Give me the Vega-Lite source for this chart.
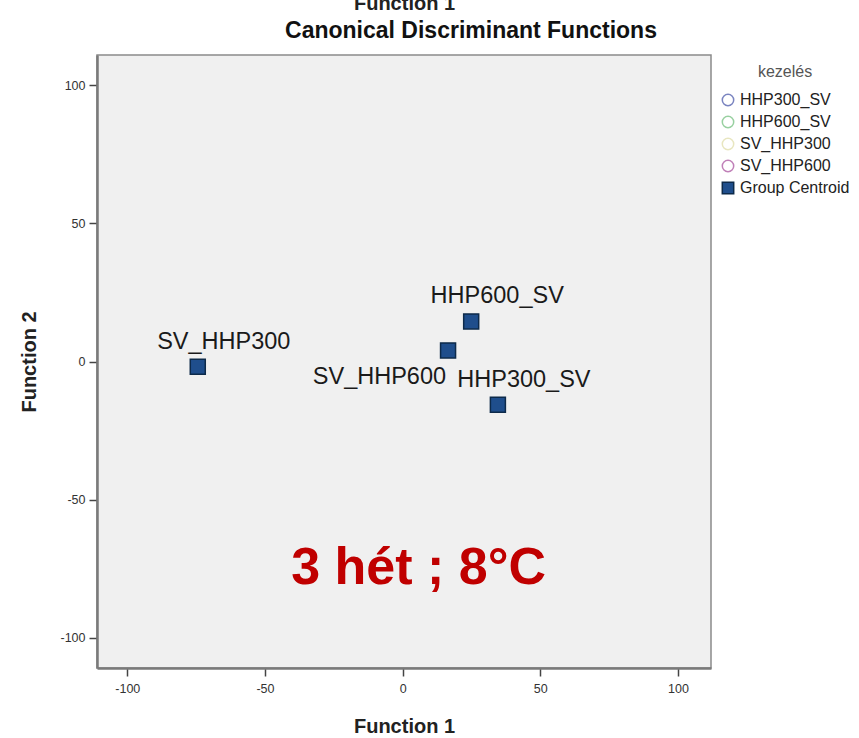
{
  "$schema": "https://vega.github.io/schema/vega-lite/v6.json",
  "width": 614,
  "height": 613,
  "autosize": "none",
  "padding": {"left": 97, "top": 55, "right": 148, "bottom": 70},
  "background": "white",
  "title": {
    "text": "Canonical Discriminant Functions",
    "fontSize": 23,
    "fontWeight": "bold",
    "color": "#111111",
    "anchor": "middle",
    "frame": "group",
    "dx": 67,
    "offset": -50
  },
  "config": {
    "font": "Liberation Sans",
    "view": {"fill": "#f0f0f0", "stroke": "#8a8a8a", "strokeWidth": 1.5},
    "axis": {
      "grid": false,
      "domainColor": "#7a7a7a",
      "domainWidth": 2.5,
      "tickColor": "#444444",
      "tickWidth": 1.5,
      "tickSize": 8,
      "labelFontSize": 12.5,
      "labelColor": "#333333",
      "titleFontSize": 20,
      "titleFontWeight": "bold",
      "titleColor": "#222222"
    }
  },
  "datasets": {
    "centroids": [
      {"group": "SV_HHP300", "kezelés": "Group Centroid", "f1": -74.4, "f2": -1.9},
      {"group": "HHP600_SV", "kezelés": "Group Centroid", "f1": 24.9, "f2": 14.5},
      {"group": "SV_HHP600", "kezelés": "Group Centroid", "f1": 16.5, "f2": 4.0},
      {"group": "HHP300_SV", "kezelés": "Group Centroid", "f1": 34.6, "f2": -15.7}
    ],
    "note": [
      {"label": "3 hét ; 8°C", "f1": 5.8, "f2": -74.7}
    ]
  },
  "layer": [
    {
      "data": {"name": "centroids"},
      "encoding": {
        "x": {
          "field": "f1", "type": "quantitative",
          "scale": {"domain": [-111, 112], "nice": false, "zero": false},
          "axis": {"orient": "bottom", "title": "Function 1", "values": [-100, -50, 0, 50, 100], "labelExpr": "datum.value < 0 ? '-' + abs(datum.value) : '' + datum.value", "labelPadding": 6, "titlePadding": 22}
        },
        "y": {
          "field": "f2", "type": "quantitative",
          "scale": {"domain": [-111, 111], "nice": false, "zero": false},
          "axis": {"title": "Function 2", "values": [-100, -50, 0, 50, 100], "labelExpr": "datum.value < 0 ? '-' + abs(datum.value) : '' + datum.value", "labelPadding": 4, "titlePadding": 20}
        }
      },
      "layer": [
        {
          "mark": {"type": "point", "size": 225, "strokeWidth": 1.5, "opacity": 1},
          "encoding": {
            "shape": {
              "field": "kezelés", "type": "nominal",
              "scale": {"domain": ["HHP300_SV", "HHP600_SV", "SV_HHP300", "SV_HHP600", "Group Centroid"], "range": ["circle", "circle", "circle", "circle", "square"]},
              "legend": {"title": "kezelés", "orient": "none", "legendX": 623, "legendY": 9, "symbolSize": 130, "symbolStrokeWidth": 1.5, "symbolOpacity": 1, "labelFontSize": 16, "labelColor": "#222222", "labelOffset": 4, "rowPadding": 4, "titleFontSize": 16, "titleFontWeight": "normal", "titleColor": "#555555", "titleAnchor": "middle", "titleAlign": "center", "titlePadding": 12, "padding": 0}
            },
            "fill": {
              "field": "kezelés", "type": "nominal",
              "scale": {"domain": ["HHP300_SV", "HHP600_SV", "SV_HHP300", "SV_HHP600", "Group Centroid"], "range": ["transparent", "transparent", "transparent", "transparent", "#1f4e8c"]},
              "legend": {"title": "kezelés", "orient": "none", "legendX": 623, "legendY": 9, "symbolSize": 130, "symbolStrokeWidth": 1.5, "symbolOpacity": 1, "labelFontSize": 16, "labelColor": "#222222", "labelOffset": 4, "rowPadding": 4, "titleFontSize": 16, "titleFontWeight": "normal", "titleColor": "#555555", "titleAnchor": "middle", "titleAlign": "center", "titlePadding": 12, "padding": 0}
            },
            "stroke": {
              "field": "kezelés", "type": "nominal",
              "scale": {"domain": ["HHP300_SV", "HHP600_SV", "SV_HHP300", "SV_HHP600", "Group Centroid"], "range": ["#7a84c0", "#98d0a0", "#e8e6c0", "#c080b8", "#0d2a4a"]},
              "legend": {"title": "kezelés", "orient": "none", "legendX": 623, "legendY": 9, "symbolSize": 130, "symbolStrokeWidth": 1.5, "symbolOpacity": 1, "labelFontSize": 16, "labelColor": "#222222", "labelOffset": 4, "rowPadding": 4, "titleFontSize": 16, "titleFontWeight": "normal", "titleColor": "#555555", "titleAnchor": "middle", "titleAlign": "center", "titlePadding": 12, "padding": 0}
            }
          }
        },
        {
          "transform": [{"filter": "datum.group !== 'SV_HHP600'"}],
          "mark": {"type": "text", "fontSize": 23.5, "color": "#1a1a1a", "align": "center", "baseline": "middle", "dx": 26, "dy": -25},
          "encoding": {"text": {"field": "group", "type": "nominal"}}
        },
        {
          "transform": [{"filter": "datum.group === 'SV_HHP600'"}],
          "mark": {"type": "text", "fontSize": 23.5, "color": "#1a1a1a", "align": "right", "baseline": "middle", "dx": -2, "dy": 27},
          "encoding": {"text": {"field": "group", "type": "nominal"}}
        }
      ]
    },
    {
      "data": {"name": "note"},
      "mark": {"type": "text", "fontSize": 52, "fontWeight": "bold", "color": "#c00000", "align": "center", "baseline": "middle"},
      "encoding": {
        "x": {
          "field": "f1", "type": "quantitative",
          "scale": {"domain": [-111, 112], "nice": false, "zero": false},
          "axis": {"orient": "top", "title": "Function 1", "labels": false, "ticks": false, "domain": false, "titlePadding": 42}
        },
        "y": {
          "field": "f2", "type": "quantitative",
          "scale": {"domain": [-111, 111], "nice": false, "zero": false},
          "axis": {"title": "Function 2", "values": [-100, -50, 0, 50, 100], "labelExpr": "datum.value < 0 ? '-' + abs(datum.value) : '' + datum.value", "labelPadding": 4, "titlePadding": 20}
        },
        "text": {"field": "label", "type": "nominal"}
      }
    }
  ],
  "resolve": {"scale": {"x": "independent"}}
}
